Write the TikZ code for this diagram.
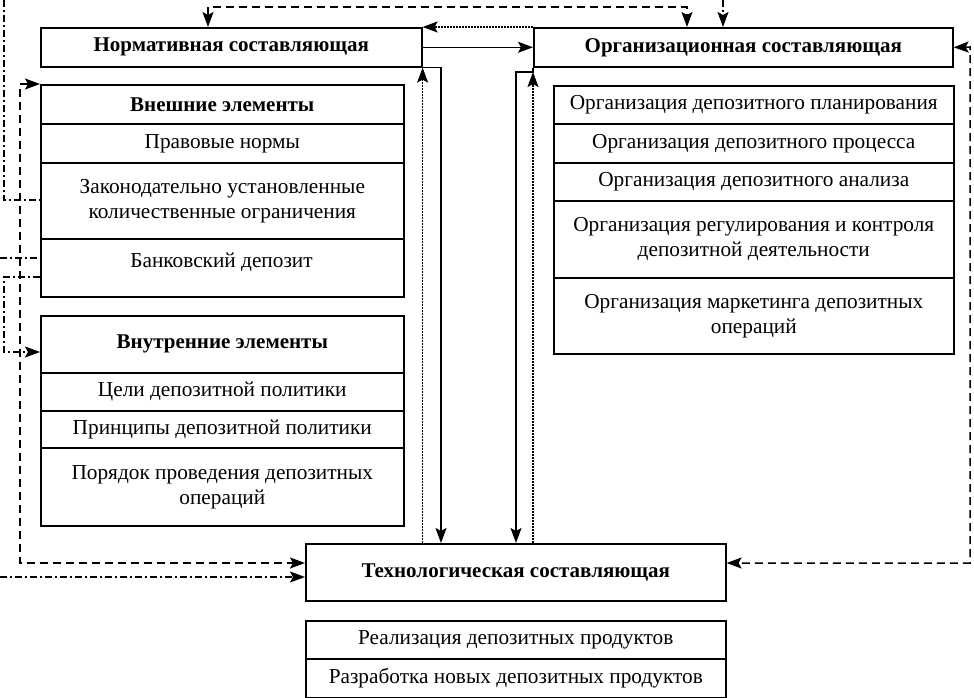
\documentclass[tikz,border=0pt]{standalone}
\usepackage{fontspec}
\setmainfont{Liberation Serif}
\usetikzlibrary{arrows.meta}
\begin{document}
\begin{tikzpicture}[x=1pt,y=-1pt,
  cell/.style={draw, line width=1.6pt, anchor=north west, inner sep=0pt, align=center,
    font=\fontsize{21.3}{25}\selectfont},
  ttl/.style={cell, font=\bfseries\fontsize{21}{25}\selectfont},
  txt/.style={inner sep=0pt, align=center, font=\fontsize{21.3}{25}\selectfont},
  conn/.style={line width=1.5pt},
  tip/.tip={Stealth[length=15pt,width=11pt,inset=3pt]},
  arr/.style={-tip},
  arrs/.style={tip-tip},
  dsh/.style={dash pattern=on 8pt off 5pt},
  dtt/.style={dash pattern=on 1.6pt off 1.4pt},
  dd/.style={dash pattern=on 7pt off 3pt on 2pt off 3pt}]
\fill[white] (0,0) rectangle (974,698);
\useasboundingbox (0,0) rectangle (974,698);
% main boxes
\node[ttl, minimum width=381pt, minimum height=39pt] (norm) at (40,27) {Нормативная составляющая};
\node[ttl, minimum width=419pt, minimum height=39pt] (org) at (533,27) {Организационная составляющая};
\node[ttl, minimum width=420pt, minimum height=57pt] (tech) at (305,543) {Технологическая составляющая};
% external elements
\node[ttl, minimum width=363pt, minimum height=39pt] (extt) at (40,84) {Внешние элементы};
\node[cell, minimum width=363pt, minimum height=39pt] (prav) at (40,123) {Правовые нормы};
\node[cell, minimum width=363pt, minimum height=76pt] (zak) at (40,162) {Законодательно установленные\\количественные ограничения};
\node[cell, minimum width=363pt, minimum height=58pt] (bank) at (40,238) {};
\node[txt] (banktxt) at (221.5,262) {Банковский депозит};
% internal elements
\node[ttl, minimum width=363pt, minimum height=57pt] (intt) at (40,315) {Внутренние элементы};
\node[cell, minimum width=363pt, minimum height=38pt] (celi) at (40,372) {Цели депозитной политики};
\node[cell, minimum width=363pt, minimum height=37pt] (princ) at (40,410) {Принципы депозитной политики};
\node[cell, minimum width=363pt, minimum height=78pt] (por) at (40,447) {Порядок проведения депозитных\\операций};
% organisational items
\node[cell, minimum width=400pt, minimum height=38pt] (plan) at (553,85) {Организация депозитного планирования};
\node[cell, minimum width=400pt, minimum height=39pt] (proc) at (553,123) {Организация депозитного процесса};
\node[cell, minimum width=400pt, minimum height=38pt] (anal) at (553,162) {Организация депозитного анализа};
\node[cell, minimum width=400pt, minimum height=77pt] (reg) at (553,200) {Организация регулирования и контроля\\депозитной деятельности};
\node[cell, minimum width=400pt, minimum height=76pt] (mark) at (553,277) {Организация маркетинга депозитных\\операций};
% technological items
\node[cell, minimum width=420pt, minimum height=38pt] (real) at (305,620) {Реализация депозитных продуктов};
\node[cell, minimum width=420pt, minimum height=39pt] (razr) at (305,658) {Разработка новых депозитных продуктов};
% coordinates
\coordinate (nbx) at (441,0);
\coordinate (ob) at (516,72);
\coordinate (t1) at (208,7);
\coordinate (t2) at (687,7);
\coordinate (t3) at (723,0);
\coordinate (r1) at (970,47);
\coordinate (r2) at (970,563);
\coordinate (l1) at (20,84);
\coordinate (l2) at (20,563);
\coordinate (d1) at (4,0);
\coordinate (d2) at (4,200);
\coordinate (d3) at (0,258);
\coordinate (d4) at (4,277);
\coordinate (d5) at (4,352);
\coordinate (d6) at (0,577);
% connectors between main boxes
\draw[conn,arr] (norm.east) -- (org.west);
\draw[conn,dtt,arr] (org.north west) -- (norm.north east);
\draw[conn,arr] (norm.south east) -| (nbx |- tech.north);
\draw[conn,dtt,arr] (tech.north -| norm.east) -- (norm.south east);
\draw[conn,arr] (org.south west) |- (ob) -- (ob |- tech.north);
\draw[conn,dtt,arr] (tech.north -| org.west) -- (org.west |- ob);
\draw[conn,dsh,arrs] (t1 |- norm.north) -- (t1) -- (t2) -- (t2 |- org.north);
\draw[conn,dd,arr] (t3) -- (t3 |- org.north);
\draw[conn,dsh,arrs] (org.east) -- (r1) -- (r2) -- (r2 -| tech.east);
\draw[conn,dsh,arrs] (extt.north west) -- (l1) -- (l2) -- (l2 -| tech.west);
% dash-dot lines on the left
\draw[conn,dd] (d1) -- (d2) -- (d2 -| zak.west);
\draw[conn,dd] (d3) -- (d3 -| bank.west);
\draw[conn,dd,arr] (d4 -| bank.west) -- (d4) -- (d5) -- (d5 -| intt.west);
\draw[conn,dd,arr] (d6) -- (d6 -| tech.west);
\end{tikzpicture}
\end{document}
